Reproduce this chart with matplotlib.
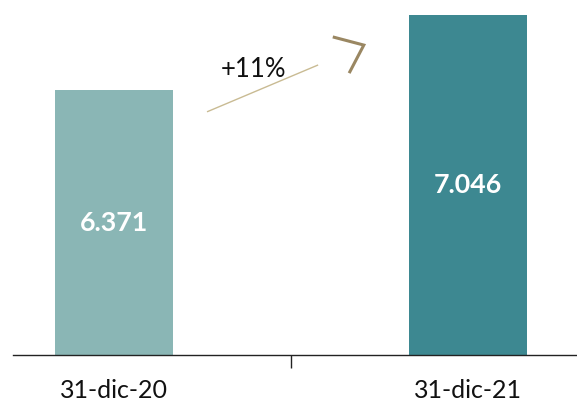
import numpy as np
import matplotlib.pyplot as plt

categories = ["31-dic-20", "31-dic-21"]
values = [6371, 7046]
value_labels = ["6.371", "7.046"]
growth_label = "+11%"

bar_colors = ["#8ab6b5", "#3d8891"]
y_bottom = 3986
y_top = 7181

plt.rcParams['font.family'] = ['Lato', 'DejaVu Sans']

fig = plt.figure(figsize=(5.77, 4.04), dpi=100)
ax = fig.add_axes([13 / 577, 49 / 404, 564 / 577, 355 / 404])

x = np.arange(len(categories))
ax.bar(x, np.array(values) - y_bottom, bottom=y_bottom, width=0.333,
       color=bar_colors, zorder=2)

for xi, v, lab in zip(x, values, value_labels):
    ax.text(xi, (v + y_bottom) / 2, lab, ha='center', va='center',
            color='white', fontsize=19.3, fontweight='bold')

ax.set_xlim(-0.285, 1.308)
ax.set_ylim(y_bottom, y_top)

for s in ['top', 'right', 'left']:
    ax.spines[s].set_visible(False)
ax.spines['bottom'].set_color('#222222')
ax.spines['bottom'].set_linewidth(1.0)

ax.set_yticks([])
ax.set_xticks(x)
ax.set_xticklabels(categories, fontsize=18, color='#111111')
ax.tick_params(axis='x', which='major', length=0, pad=17.5)
ax.set_xticks([0.5], minor=True)
ax.tick_params(axis='x', which='minor', length=9, width=1.0, color='#222222')

# growth arrow
ax.plot([0.344, 0.541], [0.685, 0.817], transform=ax.transAxes,
        color='#c9bb93', lw=1.0, solid_capstyle='butt', clip_on=False)
ax.plot([0.567, 0.622, 0.596], [0.896, 0.873, 0.794], transform=ax.transAxes,
        color='#9a8762', lw=2.2, solid_capstyle='butt', solid_joinstyle='miter',
        clip_on=False)
ax.text(0.426, 0.803, growth_label, transform=ax.transAxes, ha='center',
        va='center', fontsize=18.5, color='#111111')

fig.savefig('out.png', dpi=100)
